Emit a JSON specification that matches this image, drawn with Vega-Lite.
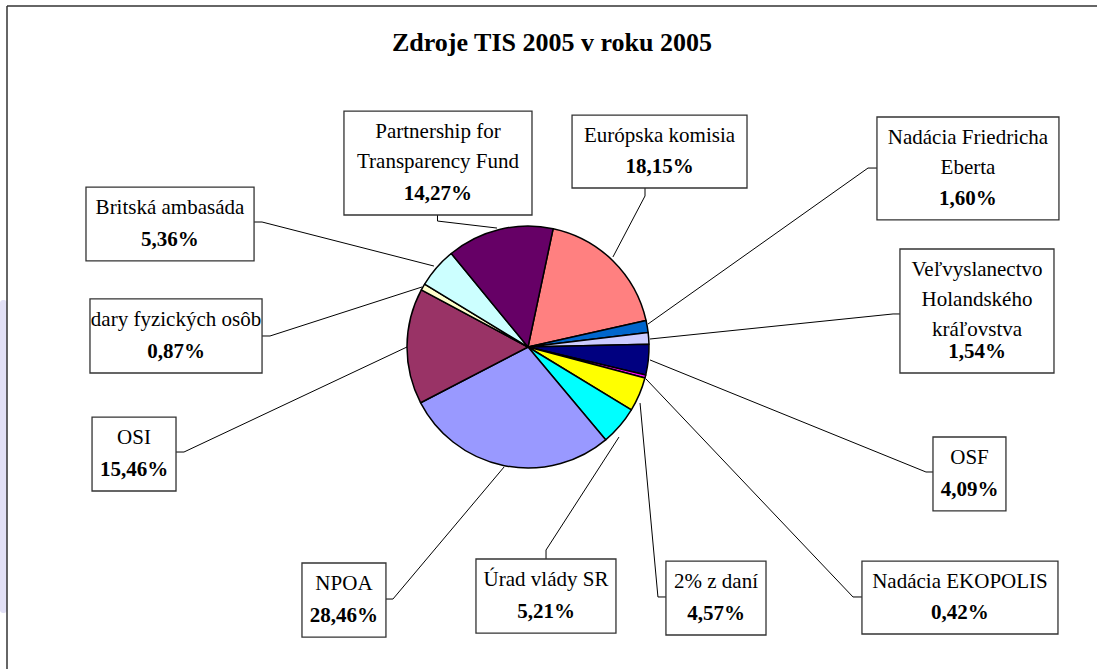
{
  "$schema": "https://vega.github.io/schema/vega-lite/v6.json",
  "autosize": "none",
  "padding": {"left": 7, "top": 6, "right": 0, "bottom": 0},
  "width": 1090,
  "height": 663,
  "background": "white",
  "config": {"view": {"stroke": null}},
  "title": {
    "text": "Zdroje TIS 2005 v roku 2005",
    "font": "Liberation Serif",
    "fontSize": 26,
    "fontWeight": "bold",
    "color": "black",
    "anchor": "middle",
    "frame": "group",
    "baseline": "alphabetic",
    "offset": 0,
    "dy": 72
  },
  "datasets": {
    "slices": [
      {"source": "Európska komisia", "share": 18.15},
      {"source": "Nadácia Friedricha Eberta", "share": 1.60},
      {"source": "Veľvyslanectvo Holandského kráľovstva", "share": 1.54},
      {"source": "OSF", "share": 4.09},
      {"source": "Nadácia EKOPOLIS", "share": 0.42},
      {"source": "2% z daní", "share": 4.57},
      {"source": "Úrad vlády SR", "share": 5.21},
      {"source": "NPOA", "share": 28.46},
      {"source": "OSI", "share": 15.46},
      {"source": "dary fyzických osôb", "share": 0.87},
      {"source": "Britská ambasáda", "share": 5.36},
      {"source": "Partnership for Transparency Fund", "share": 14.27}
    ],
    "callouts": [
      {"name": "Európska komisia", "pct": "18,15%", "x1": 0.364, "x2": 1.810, "y1": 1.917, "y2": 1.314, "cx": 1.087},
      {"name": "Nadácia Friedricha\nEberta", "pct": "1,60%", "x1": 2.884, "x2": 4.388, "y1": 1.901, "y2": 1.050, "cx": 3.636},
      {"name": "Veľvyslanectvo\nHolandského\nkráľovstva", "pct": "1,54%", "x1": 3.074, "x2": 4.347, "y1": 0.810, "y2": -0.215, "cx": 3.711},
      {"name": "OSF", "pct": "4,09%", "x1": 3.347, "x2": 3.950, "y1": -0.744, "y2": -1.355, "cx": 3.649},
      {"name": "Nadácia EKOPOLIS", "pct": "0,42%", "x1": 2.760, "x2": 4.380, "y1": -1.769, "y2": -2.372, "cx": 3.570},
      {"name": "2% z daní", "pct": "4,57%", "x1": 1.140, "x2": 1.967, "y1": -1.769, "y2": -2.380, "cx": 1.554},
      {"name": "Úrad vlády SR", "pct": "5,21%", "x1": -0.430, "x2": 0.727, "y1": -1.752, "y2": -2.364, "cx": 0.149},
      {"name": "NPOA", "pct": "28,46%", "x1": -1.868, "x2": -1.174, "y1": -1.785, "y2": -2.397, "cx": -1.521},
      {"name": "OSI", "pct": "15,46%", "x1": -3.603, "x2": -2.909, "y1": -0.579, "y2": -1.190, "cx": -3.256},
      {"name": "dary fyzických osôb", "pct": "0,87%", "x1": -3.620, "x2": -2.198, "y1": 0.397, "y2": -0.215, "cx": -2.909},
      {"name": "Britská ambasáda", "pct": "5,36%", "x1": -3.653, "x2": -2.264, "y1": 1.322, "y2": 0.711, "cx": -2.959},
      {"name": "Partnership for\nTransparency Fund", "pct": "14,27%", "x1": -1.521, "x2": 0.033, "y1": 1.950, "y2": 1.091, "cx": -0.744}
    ],
    "leaders": [
      {"id": "EK", "k": 1, "x": 0.967, "y": 1.314}, {"id": "EK", "k": 2, "x": 0.967, "y": 1.248}, {"id": "EK", "k": 3, "x": 0.702, "y": 0.744},
      {"id": "NFE", "k": 1, "x": 2.884, "y": 1.479}, {"id": "NFE", "k": 2, "x": 2.810, "y": 1.479}, {"id": "NFE", "k": 3, "x": 0.992, "y": 0.190},
      {"id": "VH", "k": 1, "x": 3.074, "y": 0.273}, {"id": "VH", "k": 2, "x": 3.017, "y": 0.273}, {"id": "VH", "k": 3, "x": 1.008, "y": 0.066},
      {"id": "OSF", "k": 1, "x": 3.347, "y": -1.033}, {"id": "OSF", "k": 2, "x": 3.289, "y": -1.033}, {"id": "OSF", "k": 3, "x": 1.008, "y": -0.107},
      {"id": "NE", "k": 1, "x": 2.760, "y": -2.066}, {"id": "NE", "k": 2, "x": 2.686, "y": -2.066}, {"id": "NE", "k": 3, "x": 0.975, "y": -0.264},
      {"id": "D2", "k": 1, "x": 1.140, "y": -2.066}, {"id": "D2", "k": 2, "x": 1.074, "y": -2.066}, {"id": "D2", "k": 3, "x": 0.926, "y": -0.463},
      {"id": "UV", "k": 1, "x": 0.149, "y": -1.752}, {"id": "UV", "k": 2, "x": 0.149, "y": -1.678}, {"id": "UV", "k": 3, "x": 0.752, "y": -0.744},
      {"id": "NPOA", "k": 1, "x": -1.174, "y": -2.083}, {"id": "NPOA", "k": 2, "x": -1.116, "y": -2.083}, {"id": "NPOA", "k": 3, "x": -0.198, "y": -0.992},
      {"id": "OSI", "k": 1, "x": -2.909, "y": -0.868}, {"id": "OSI", "k": 2, "x": -2.843, "y": -0.868}, {"id": "OSI", "k": 3, "x": -1.000, "y": 0.0},
      {"id": "DFO", "k": 1, "x": -2.198, "y": 0.091}, {"id": "DFO", "k": 2, "x": -2.132, "y": 0.091}, {"id": "DFO", "k": 3, "x": -0.876, "y": 0.496},
      {"id": "BA", "k": 1, "x": -2.264, "y": 1.033}, {"id": "BA", "k": 2, "x": -2.198, "y": 1.033}, {"id": "BA", "k": 3, "x": -0.777, "y": 0.669},
      {"id": "PTF", "k": 1, "x": -0.748, "y": 1.091}, {"id": "PTF", "k": 2, "x": -0.748, "y": 1.041}, {"id": "PTF", "k": 3, "x": -0.256, "y": 0.983}
    ]
  },
  "layer": [
    {
      "data": {"values": [{"x1": -4.364, "x2": -4.306, "y1": 0.388, "y2": -2.198}]},
      "mark": {"type": "rect", "fill": "#e2e0f6", "cornerRadius": 3},
      "encoding": {
        "x": {"field": "x1", "type": "quantitative", "scale": {"domain": [-4.3058, 4.7025], "nice": false, "zero": false}, "axis": null},
        "x2": {"field": "x2"},
        "y": {"field": "y1", "type": "quantitative", "scale": {"domain": [-2.6612, 2.8182], "nice": false, "zero": false}, "axis": null},
        "y2": {"field": "y2"}
      }
    },
    {
      "data": {"values": [{"edge": "left"}]},
      "mark": {"type": "rule", "color": "#333333", "strokeWidth": 1.5},
      "encoding": {
        "x": {"datum": -4.3058, "type": "quantitative", "scale": {"domain": [-4.3058, 4.7025], "nice": false, "zero": false}, "axis": null},
        "y": {"datum": 2.8182, "type": "quantitative", "scale": {"domain": [-2.6612, 2.8182], "nice": false, "zero": false}, "axis": null},
        "y2": {"datum": -2.6612}
      }
    },
    {
      "data": {"values": [{"edge": "top"}]},
      "mark": {"type": "rule", "color": "#333333", "strokeWidth": 1.5},
      "encoding": {
        "x": {"datum": -4.3058, "type": "quantitative", "scale": {"domain": [-4.3058, 4.7025], "nice": false, "zero": false}, "axis": null},
        "x2": {"datum": 4.7025},
        "y": {"datum": 2.8182, "type": "quantitative", "scale": {"domain": [-2.6612, 2.8182], "nice": false, "zero": false}, "axis": null}
      }
    },
    {
      "data": {"name": "leaders"},
      "mark": {"type": "line", "color": "black", "strokeWidth": 1},
      "encoding": {
        "x": {"field": "x", "type": "quantitative", "scale": {"domain": [-4.3058, 4.7025], "nice": false, "zero": false}, "axis": null},
        "y": {"field": "y", "type": "quantitative", "scale": {"domain": [-2.6612, 2.8182], "nice": false, "zero": false}, "axis": null},
        "detail": {"field": "id"},
        "order": {"field": "k"}
      }
    },
    {
      "data": {"name": "slices"},
      "transform": [{"window": [{"op": "row_number", "as": "i"}]}],
      "mark": {"type": "arc", "outerRadius": 121, "stroke": "black", "strokeWidth": 1.5, "strokeJoin": "round"},
      "encoding": {
        "x": {"datum": 0, "type": "quantitative", "scale": {"domain": [-4.3058, 4.7025], "nice": false, "zero": false}, "axis": null},
        "y": {"datum": 0, "type": "quantitative", "scale": {"domain": [-2.6612, 2.8182], "nice": false, "zero": false}, "axis": null},
        "theta": {"field": "share", "type": "quantitative", "stack": true, "scale": {"range": [0.2094, 6.4926]}},
        "order": {"field": "i", "type": "quantitative"},
        "color": {
          "field": "source", "type": "nominal", "legend": null,
          "scale": {
            "domain": ["Európska komisia", "Nadácia Friedricha Eberta", "Veľvyslanectvo Holandského kráľovstva", "OSF", "Nadácia EKOPOLIS", "2% z daní", "Úrad vlády SR", "NPOA", "OSI", "dary fyzických osôb", "Britská ambasáda", "Partnership for Transparency Fund"],
            "range": ["#FF8080", "#0066CC", "#CCCCFF", "#000080", "#FF00FF", "#FFFF00", "#00FFFF", "#9999FF", "#993366", "#FFFFCC", "#CCFFFF", "#660066"]
          }
        }
      }
    },
    {
      "data": {"name": "callouts"},
      "mark": {"type": "rect", "fill": "white", "stroke": "#333333", "strokeWidth": 1.3},
      "encoding": {
        "x": {"field": "x1", "type": "quantitative", "scale": {"domain": [-4.3058, 4.7025], "nice": false, "zero": false}, "axis": null},
        "x2": {"field": "x2"},
        "y": {"field": "y1", "type": "quantitative", "scale": {"domain": [-2.6612, 2.8182], "nice": false, "zero": false}, "axis": null},
        "y2": {"field": "y2"}
      }
    },
    {
      "data": {"name": "callouts"},
      "mark": {"type": "text", "font": "Liberation Serif", "fontSize": 21, "color": "black", "align": "center", "baseline": "alphabetic", "dy": 27, "lineHeight": 30, "lineBreak": "\n"},
      "encoding": {
        "x": {"field": "cx", "type": "quantitative", "scale": {"domain": [-4.3058, 4.7025], "nice": false, "zero": false}, "axis": null},
        "y": {"field": "y1", "type": "quantitative", "scale": {"domain": [-2.6612, 2.8182], "nice": false, "zero": false}, "axis": null},
        "text": {"field": "name"}
      }
    },
    {
      "data": {"name": "callouts"},
      "mark": {"type": "text", "font": "Liberation Serif", "fontSize": 21, "fontWeight": "bold", "color": "black", "align": "center", "baseline": "alphabetic", "dy": -15},
      "encoding": {
        "x": {"field": "cx", "type": "quantitative", "scale": {"domain": [-4.3058, 4.7025], "nice": false, "zero": false}, "axis": null},
        "y": {"field": "y2", "type": "quantitative", "scale": {"domain": [-2.6612, 2.8182], "nice": false, "zero": false}, "axis": null},
        "text": {"field": "pct"}
      }
    }
  ]
}
